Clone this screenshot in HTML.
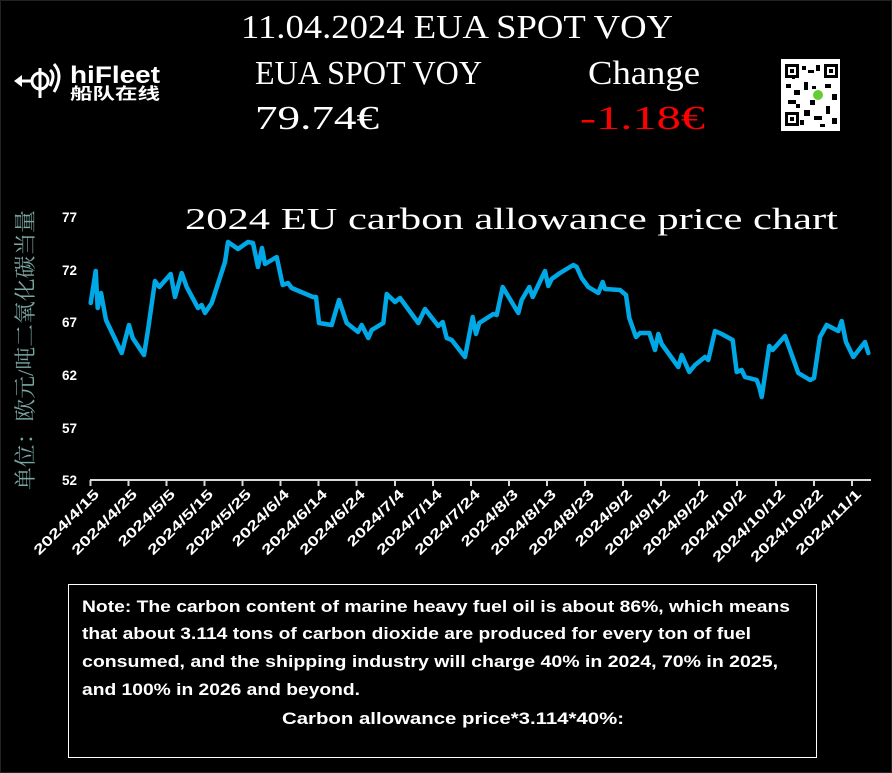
<!DOCTYPE html>
<html><head><meta charset="utf-8"><style>
html,body{margin:0;padding:0;background:#000;}
svg{display:block;}
.b{font-family:"Liberation Sans","Noto Sans CJK SC",sans-serif;font-weight:bold;}
.s{font-family:"Liberation Serif","Noto Serif CJK SC",serif;}
</style></head><body>
<svg width="892" height="773" viewBox="0 0 892 773" xmlns="http://www.w3.org/2000/svg">
<rect width="892" height="773" fill="#000"/>
<rect x="0.5" y="0.5" width="891" height="772" fill="none" stroke="#222"/>
<!-- header -->
<text class="s" x="241" y="38" font-size="34" fill="#fff" textLength="432" lengthAdjust="spacingAndGlyphs">11.04.2024 EUA SPOT VOY</text>
<text class="s" x="255" y="84" font-size="34" fill="#fff" textLength="227" lengthAdjust="spacingAndGlyphs">EUA SPOT VOY</text>
<text class="s" x="588" y="84" font-size="34" fill="#fff" textLength="112" lengthAdjust="spacingAndGlyphs">Change</text>
<text class="s" x="255" y="129" font-size="34" fill="#fff" textLength="124" lengthAdjust="spacingAndGlyphs">79.74€</text>
<text class="s" x="580" y="129" font-size="34" fill="#f00" textLength="125" lengthAdjust="spacingAndGlyphs">-1.18€</text>
<!-- logo -->
<g fill="none" stroke="#fff" stroke-width="3">
<circle cx="40" cy="81" r="8"/><line x1="40" y1="68" x2="40" y2="98"/><line x1="16" y1="81" x2="32" y2="81"/>
<path d="M50 70 Q56 75 50 86" /><path d="M54 64 Q64 75 54 92"/>
</g>
<polygon points="14,81 22,75 22,87" fill="#fff"/>
<text class="b" x="70" y="83" font-size="24" fill="#fff" textLength="90" lengthAdjust="spacingAndGlyphs">hiFleet</text>
<text class="b" x="70" y="99" font-size="16" fill="#fff" textLength="90" lengthAdjust="spacingAndGlyphs">船队在线</text>
<!-- QR -->
<rect x="781" y="59" width="59" height="72" fill="#fff"/>
<g fill="#000">
<rect x="785" y="64" width="14" height="14"/><rect x="824" y="64" width="14" height="14"/><rect x="785" y="112" width="14" height="14"/>
<rect x="802" y="66" width="4" height="4"/><rect x="808" y="70" width="6" height="3"/><rect x="816" y="65" width="4" height="6"/>
<rect x="786" y="84" width="5" height="4"/><rect x="794" y="90" width="6" height="5"/><rect x="804" y="82" width="4" height="8"/>
<rect x="825" y="84" width="6" height="4"/><rect x="832" y="94" width="5" height="6"/><rect x="788" y="100" width="8" height="4"/>
<rect x="804" y="110" width="6" height="6"/><rect x="814" y="116" width="8" height="4"/><rect x="826" y="106" width="4" height="8"/>
<rect x="832" y="118" width="5" height="6"/><rect x="810" y="100" width="5" height="5"/><rect x="800" y="120" width="4" height="5"/>
<rect x="792" y="76" width="3" height="3"/><rect x="812" y="86" width="4" height="3"/><rect x="796" y="104" width="4" height="4"/><rect x="820" y="124" width="5" height="3"/>
</g>
<g fill="#fff"><rect x="788" y="67" width="8" height="8"/><rect x="827" y="67" width="8" height="8"/><rect x="788" y="115" width="8" height="8"/></g>
<g fill="#000"><rect x="790" y="69" width="4" height="4"/><rect x="829" y="69" width="4" height="4"/><rect x="790" y="117" width="4" height="4"/></g>
<circle cx="818" cy="95" r="5" fill="#6c3"/>
<!-- chart title -->
<text class="s" x="185" y="229" font-size="31" fill="#fff" textLength="653" lengthAdjust="spacingAndGlyphs">2024 EU carbon allowance price chart</text>
<!-- y axis label -->
<text x="0" y="0" transform="translate(33,490) rotate(-90)" font-family="'Liberation Serif','Noto Serif CJK SC',serif" font-size="22" fill="#7aa7a0" textLength="280" lengthAdjust="spacingAndGlyphs">单位：欧元/吨二氧化碳当量</text>
<!-- y ticks -->
<g class="b" font-size="13.5" fill="#fff" text-anchor="end">
<text x="77" y="222">77</text><text x="77" y="275">72</text><text x="77" y="327">67</text>
<text x="77" y="380">62</text><text x="77" y="433">57</text><text x="77" y="485">52</text>
</g>
<!-- x axis -->
<line x1="90" y1="480" x2="871" y2="480" stroke="#d9d9d9" stroke-width="2"/>
<g stroke="#d9d9d9" stroke-width="2">
<line x1="90.5" y1="480" x2="90.5" y2="486"/><line x1="128.5" y1="480" x2="128.5" y2="486"/><line x1="166.5" y1="480" x2="166.5" y2="486"/>
<line x1="204.5" y1="480" x2="204.5" y2="486"/><line x1="242.5" y1="480" x2="242.5" y2="486"/><line x1="280.5" y1="480" x2="280.5" y2="486"/>
<line x1="318.5" y1="480" x2="318.5" y2="486"/><line x1="356.5" y1="480" x2="356.5" y2="486"/><line x1="395" y1="480" x2="395" y2="486"/>
<line x1="433" y1="480" x2="433" y2="486"/><line x1="471" y1="480" x2="471" y2="486"/><line x1="509" y1="480" x2="509" y2="486"/>
<line x1="547" y1="480" x2="547" y2="486"/><line x1="585" y1="480" x2="585" y2="486"/><line x1="623" y1="480" x2="623" y2="486"/>
<line x1="661" y1="480" x2="661" y2="486"/><line x1="699" y1="480" x2="699" y2="486"/><line x1="737" y1="480" x2="737" y2="486"/>
<line x1="776" y1="480" x2="776" y2="486"/><line x1="814" y1="480" x2="814" y2="486"/><line x1="852" y1="480" x2="852" y2="486"/>
</g>
<g class="b" font-size="14" fill="#fff" text-anchor="end">
<text transform="translate(100,495) rotate(-45)" textLength="86" lengthAdjust="spacingAndGlyphs">2024/4/15</text>
<text transform="translate(138,495) rotate(-45)" textLength="86" lengthAdjust="spacingAndGlyphs">2024/4/25</text>
<text transform="translate(176,495) rotate(-45)" textLength="74" lengthAdjust="spacingAndGlyphs">2024/5/5</text>
<text transform="translate(214,495) rotate(-45)" textLength="86" lengthAdjust="spacingAndGlyphs">2024/5/15</text>
<text transform="translate(252,495) rotate(-45)" textLength="86" lengthAdjust="spacingAndGlyphs">2024/5/25</text>
<text transform="translate(290,495) rotate(-45)" textLength="74" lengthAdjust="spacingAndGlyphs">2024/6/4</text>
<text transform="translate(328,495) rotate(-45)" textLength="86" lengthAdjust="spacingAndGlyphs">2024/6/14</text>
<text transform="translate(366,495) rotate(-45)" textLength="86" lengthAdjust="spacingAndGlyphs">2024/6/24</text>
<text transform="translate(405,495) rotate(-45)" textLength="74" lengthAdjust="spacingAndGlyphs">2024/7/4</text>
<text transform="translate(443,495) rotate(-45)" textLength="86" lengthAdjust="spacingAndGlyphs">2024/7/14</text>
<text transform="translate(481,495) rotate(-45)" textLength="86" lengthAdjust="spacingAndGlyphs">2024/7/24</text>
<text transform="translate(519,495) rotate(-45)" textLength="74" lengthAdjust="spacingAndGlyphs">2024/8/3</text>
<text transform="translate(557,495) rotate(-45)" textLength="86" lengthAdjust="spacingAndGlyphs">2024/8/13</text>
<text transform="translate(595,495) rotate(-45)" textLength="86" lengthAdjust="spacingAndGlyphs">2024/8/23</text>
<text transform="translate(633,495) rotate(-45)" textLength="74" lengthAdjust="spacingAndGlyphs">2024/9/2</text>
<text transform="translate(671,495) rotate(-45)" textLength="86" lengthAdjust="spacingAndGlyphs">2024/9/12</text>
<text transform="translate(709,495) rotate(-45)" textLength="86" lengthAdjust="spacingAndGlyphs">2024/9/22</text>
<text transform="translate(747,495) rotate(-45)" textLength="86" lengthAdjust="spacingAndGlyphs">2024/10/2</text>
<text transform="translate(786,495) rotate(-45)" textLength="96" lengthAdjust="spacingAndGlyphs">2024/10/12</text>
<text transform="translate(824,495) rotate(-45)" textLength="96" lengthAdjust="spacingAndGlyphs">2024/10/22</text>
<text transform="translate(862,495) rotate(-45)" textLength="86" lengthAdjust="spacingAndGlyphs">2024/11/1</text>
</g>
<!-- series -->
<polyline fill="none" stroke="#00a8e6" stroke-width="4.5" stroke-linejoin="round" stroke-linecap="round" points="
90.7,303 95.7,271 97.7,308 101,293 106,320 121.7,353 129,325 132.7,338 144,355 148,330 155,281 159.3,287 170.7,274 175,297 181.7,273 186.7,287 198,308 201.7,305 205,313 211.7,303 225,262 228,242 238,249 248,242 253,243 258,267 262,248 265,264 276.7,257 282.7,285 288,283 291.7,288 313,297 316,297 319,323 331.7,325 339,300 346.7,323 358,332 361.7,325 368.3,338 371.7,330 383.3,323 386.7,294 395,302 400,298 418.3,323 425,309 438.3,326 442.7,322 446.7,338 451.7,340 465,357 472.7,317 476,334 479.3,323 493.3,314 496.7,315 502.7,287 518.3,313 521.7,300 529.3,287 532.7,297 545,271 548.3,286 551.7,279 560,273 573.3,265 576.7,267 581.7,278 588.3,287 598.3,293 602.7,282 605,289 620,290 626,295 629.3,318 636,337 640,333 649.3,333 655,350 658.3,334 661.7,344 678.3,367 681.7,355 689.3,372 695,365 705,357 708.3,360 715,331 721.7,334 732.7,340 736.7,372 741.7,370 745,377 756.7,380 759.3,387 761.7,397 765,375 769.3,346 772.7,350 785,336 798.3,373 810,380 814,378 820,337 826.7,325 838.3,331 841.7,321 846,342 853.3,357 865,342 868.3,353"/>
<!-- note box -->
<rect x="68.5" y="584.5" width="748" height="173" fill="none" stroke="#fff" stroke-width="1"/>
<g class="b" font-size="16.5" fill="#fff">
<text x="82" y="612" textLength="708" lengthAdjust="spacingAndGlyphs">Note: The carbon content of marine heavy fuel oil is about 86%, which means</text>
<text x="82" y="639" textLength="669" lengthAdjust="spacingAndGlyphs">that about 3.114 tons of carbon dioxide are produced for every ton of fuel</text>
<text x="82" y="667" textLength="696" lengthAdjust="spacingAndGlyphs">consumed, and the shipping industry will charge 40% in 2024, 70% in 2025,</text>
<text x="82" y="695" textLength="278" lengthAdjust="spacingAndGlyphs">and 100% in 2026 and beyond.</text>
<text x="282" y="724" textLength="342" lengthAdjust="spacingAndGlyphs">Carbon allowance price*3.114*40%:</text>
</g>
</svg>
</body></html>
